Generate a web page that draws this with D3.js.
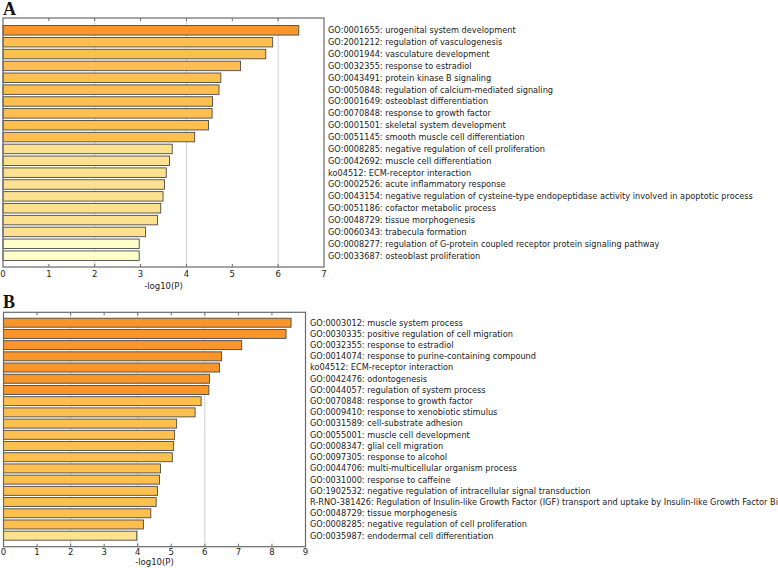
<!DOCTYPE html>
<html><head><meta charset="utf-8">
<script src="https://cdn.jsdelivr.net/npm/d3@7"></script>
<style>body{margin:0;background:#fff}svg{display:block}</style>
</head><body>
<svg id="c" width="778" height="568"></svg>
<script>
const termsA = [
 "GO:0001655: urogenital system development",
 "GO:2001212: regulation of vasculogenesis",
 "GO:0001944: vasculature development",
 "GO:0032355: response to estradiol",
 "GO:0043491: protein kinase B signaling",
 "GO:0050848: regulation of calcium-mediated signaling",
 "GO:0001649: osteoblast differentiation",
 "GO:0070848: response to growth factor",
 "GO:0001501: skeletal system development",
 "GO:0051145: smooth muscle cell differentiation",
 "GO:0008285: negative regulation of cell proliferation",
 "GO:0042692: muscle cell differentiation",
 "ko04512: ECM-receptor interaction",
 "GO:0002526: acute inflammatory response",
 "GO:0043154: negative regulation of cysteine-type endopeptidase activity involved in apoptotic process",
 "GO:0051186: cofactor metabolic process",
 "GO:0048729: tissue morphogenesis",
 "GO:0060343: trabecula formation",
 "GO:0008277: regulation of G-protein coupled receptor protein signaling pathway",
 "GO:0033687: osteoblast proliferation"
];
const valuesA = [6.45,5.88,5.73,5.18,4.75,4.71,4.57,4.56,4.48,4.18,3.69,3.63,3.56,3.52,3.49,3.44,3.37,3.11,2.97,2.97];

const termsB = [
 "GO:0003012: muscle system process",
 "GO:0030335: positive regulation of cell migration",
 "GO:0032355: response to estradiol",
 "GO:0014074: response to purine-containing compound",
 "ko04512: ECM-receptor interaction",
 "GO:0042476: odontogenesis",
 "GO:0044057: regulation of system process",
 "GO:0070848: response to growth factor",
 "GO:0009410: response to xenobiotic stimulus",
 "GO:0031589: cell-substrate adhesion",
 "GO:0055001: muscle cell development",
 "GO:0008347: glial cell migration",
 "GO:0097305: response to alcohol",
 "GO:0044706: multi-multicellular organism process",
 "GO:0031000: response to caffeine",
 "GO:1902532: negative regulation of intracellular signal transduction",
 "R-RNO-381426: Regulation of Insulin-like Growth Factor (IGF) transport and uptake by Insulin-like Growth Factor Bi",
 "GO:0048729: tissue morphogenesis",
 "GO:0008285: negative regulation of cell proliferation",
 "GO:0035987: endodermal cell differentiation"
];
const valuesB = [8.57,8.42,7.10,6.50,6.44,6.14,6.12,5.89,5.71,5.16,5.10,5.07,5.03,4.68,4.65,4.59,4.55,4.39,4.17,3.97];

const ticksA = [0,1,2,3,4,5,6,7];
const ticksB = [0,1,2,3,4,5,6,7,8,9];
const gridVals = [2,4,6];
const axisTitle = "-log10(P)";

const colorScale = d3.scaleThreshold()
  .domain([3,4,6])
  .range(["#ffffcc","#fee190","#fdbf50","#f8962c"]);

const svg = d3.select("#c");
const FONT = "DejaVu Sans, sans-serif";

function panel(cfg){
  const g = svg.append("g");
  const x = d3.scaleLinear().domain([0, cfg.max]).range([cfg.x0, cfg.x1]);
  const y = d3.scaleBand().domain(cfg.terms).range([cfg.b0, cfg.b1]).paddingInner(0.2).paddingOuter(0.1);
  g.selectAll("line.grid").data(gridVals).join("line")
    .attr("x1", d=>x(d)).attr("x2", d=>x(d))
    .attr("y1", cfg.top).attr("y2", cfg.bottom)
    .attr("stroke", "#cfcfcf").attr("stroke-width", 1);
  g.selectAll("rect.bar").data(cfg.values).join("rect")
    .attr("x", x(0)).attr("y", (d,i)=>y(cfg.terms[i]))
    .attr("width", d=>x(d)-x(0)).attr("height", y.bandwidth())
    .attr("fill", d=>colorScale(d)).attr("stroke", "#4a4a4a").attr("stroke-width", 0.9);
  g.append("rect").attr("x", cfg.x0).attr("y", cfg.top)
    .attr("width", cfg.x1-cfg.x0).attr("height", cfg.bottom-cfg.top)
    .attr("fill","none").attr("stroke","#6a6a6a").attr("stroke-width",1.2);
  const inner = cfg.ticks.slice(1,-1);
  g.selectAll("line.tt").data(inner).join("line")
    .attr("x1", d=>x(d)).attr("x2", d=>x(d)).attr("y1", cfg.top).attr("y2", cfg.top+3)
    .attr("stroke","#6a6a6a");
  g.selectAll("line.tb").data(inner).join("line")
    .attr("x1", d=>x(d)).attr("x2", d=>x(d)).attr("y1", cfg.bottom).attr("y2", cfg.bottom-3)
    .attr("stroke","#6a6a6a");
  g.selectAll("text.tl").data(cfg.ticks).join("text")
    .attr("x", d=>x(d)).attr("y", cfg.bottom+cfg.tickDy)
    .attr("text-anchor","middle").attr("font-family",FONT).attr("font-size",8.5)
    .attr("fill","#222").text(d=>d);
  g.append("text").attr("x",(cfg.x0+cfg.x1)/2).attr("y", cfg.bottom+cfg.titleDy)
    .attr("text-anchor","middle").attr("font-family",FONT).attr("font-size",8.5)
    .attr("fill","#222").text(axisTitle);
  g.selectAll("text.lab").data(cfg.terms).join("text")
    .attr("x", cfg.labX).attr("y", d=>y(d)+y.bandwidth()/2)
    .attr("dy","0.35em").attr("font-family",FONT).attr("font-size",8.2)
    .attr("fill","#222").text(d=>d);
  svg.append("text").attr("x", 3).attr("y", cfg.letterY)
    .attr("font-family","Liberation Serif, Times New Roman, serif").attr("font-weight","bold")
    .attr("font-size",18).attr("fill","#111").text(cfg.letter);
}

panel({terms:termsA, values:valuesA, max:7, ticks:ticksA, x0:3, x1:324, top:18, bottom:267,
       b0:24.4, b1:261.6, labX:328, letter:"A", letterY:15, tickDy:9.5, titleDy:21.5});
panel({terms:termsB, values:valuesB, max:9, ticks:ticksB, x0:3.5, x1:305.5, top:312.3, bottom:546.7,
       b0:317.1, b1:541.3, labX:310, letter:"B", letterY:308, tickDy:8, titleDy:18.5});
</script>
</body></html>
